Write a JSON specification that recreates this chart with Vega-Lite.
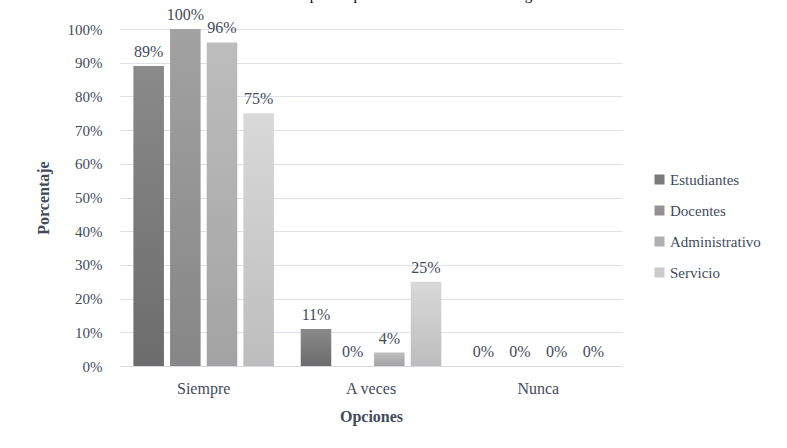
{
  "$schema": "https://vega.github.io/schema/vega-lite/v6.json",
  "autosize": {"type": "none"},
  "padding": {"left": 120, "top": 29, "right": 165, "bottom": 82},
  "width": 502,
  "height": 337,
  "background": "white",
  "title": {
    "text": "Gráfico 13: Preocupación por reducir el consumo del agua",
    "frame": "group",
    "anchor": "middle",
    "baseline": "alphabetic",
    "offset": -8,
    "font": "Liberation Serif, serif",
    "fontSize": 15,
    "fontWeight": "normal",
    "color": "#000000"
  },
  "config": {
    "view": {"stroke": null},
    "font": "Liberation Serif, serif"
  },
  "data": {
    "values": [
      {"opcion": "Siempre", "grupo": "Estudiantes", "valor": 0.89},
      {"opcion": "Siempre", "grupo": "Docentes", "valor": 1.0},
      {"opcion": "Siempre", "grupo": "Administrativo", "valor": 0.96},
      {"opcion": "Siempre", "grupo": "Servicio", "valor": 0.75},
      {"opcion": "A veces", "grupo": "Estudiantes", "valor": 0.11},
      {"opcion": "A veces", "grupo": "Docentes", "valor": 0.0},
      {"opcion": "A veces", "grupo": "Administrativo", "valor": 0.04},
      {"opcion": "A veces", "grupo": "Servicio", "valor": 0.25},
      {"opcion": "Nunca", "grupo": "Estudiantes", "valor": 0.0},
      {"opcion": "Nunca", "grupo": "Docentes", "valor": 0.0},
      {"opcion": "Nunca", "grupo": "Administrativo", "valor": 0.0},
      {"opcion": "Nunca", "grupo": "Servicio", "valor": 0.0}
    ]
  },
  "encoding": {
    "x": {
      "field": "opcion",
      "type": "nominal",
      "sort": ["Siempre", "A veces", "Nunca"],
      "scale": {"paddingInner": 0.16, "paddingOuter": 0.08},
      "axis": {
        "title": "Opciones",
        "labelAngle": 0,
        "labelFont": "Liberation Serif, serif",
        "labelFontSize": 16,
        "labelColor": "#3f4b5b",
        "labelPadding": 14,
        "ticks": false,
        "domainColor": "#d6dae3",
        "titleFont": "Liberation Serif, serif",
        "titleFontSize": 16,
        "titleFontWeight": "bold",
        "titleColor": "#3f4b5b",
        "titlePadding": 12
      }
    },
    "xOffset": {
      "field": "grupo",
      "type": "nominal",
      "sort": ["Estudiantes", "Docentes", "Administrativo", "Servicio"],
      "scale": {"paddingInner": 0.1667, "paddingOuter": 0}
    },
    "y": {
      "field": "valor",
      "type": "quantitative",
      "scale": {"domain": [0, 1]},
      "axis": {
        "title": "Porcentaje",
        "format": ".0%",
        "values": [0, 0.1, 0.2, 0.3, 0.4, 0.5, 0.6, 0.7, 0.8, 0.9, 1.0],
        "labelOverlap": false,
        "labelFont": "Liberation Serif, serif",
        "labelFontSize": 15,
        "labelColor": "#3f4b5b",
        "labelPadding": 18,
        "ticks": false,
        "domain": false,
        "gridColor": "#dde1ea",
        "titleFont": "Liberation Serif, serif",
        "titleFontSize": 16,
        "titleFontWeight": "bold",
        "titleColor": "#3f4b5b",
        "titlePadding": 16
      }
    }
  },
  "layer": [
    {
      "mark": {"type": "bar"},
      "encoding": {
        "color": {
          "condition": [
            {"test": "datum.grupo === 'Estudiantes'", "value": {"gradient": "linear", "x1": 0, "y1": 1, "x2": 0, "y2": 0, "stops": [{"offset": 0, "color": "#6c6c6c"}, {"offset": 1, "color": "#8a8a8a"}]}},
            {"test": "datum.grupo === 'Docentes'", "value": {"gradient": "linear", "x1": 0, "y1": 1, "x2": 0, "y2": 0, "stops": [{"offset": 0, "color": "#868686"}, {"offset": 1, "color": "#a2a2a2"}]}},
            {"test": "datum.grupo === 'Administrativo'", "value": {"gradient": "linear", "x1": 0, "y1": 1, "x2": 0, "y2": 0, "stops": [{"offset": 0, "color": "#a3a3a3"}, {"offset": 1, "color": "#bdbdbd"}]}},
            {"test": "datum.grupo === 'Servicio'", "value": {"gradient": "linear", "x1": 0, "y1": 1, "x2": 0, "y2": 0, "stops": [{"offset": 0, "color": "#bdbdbd"}, {"offset": 1, "color": "#d9d9d9"}]}}
          ],
          "field": "grupo",
          "type": "nominal",
          "sort": ["Estudiantes", "Docentes", "Administrativo", "Servicio"],
          "scale": {
            "domain": ["Estudiantes", "Docentes", "Administrativo", "Servicio"],
            "range": ["#7b7b7b", "#939393", "#b0b0b0", "#cbcbcb"]
          },
          "legend": {
            "title": null,
            "orient": "none",
            "legendX": 532,
            "legendY": 143,
            "symbolType": "square",
            "symbolSize": 100,
            "symbolStrokeWidth": 0,
            "labelFontSize": 15,
            "labelColor": "#3f4b5b",
            "labelFont": "Liberation Serif, serif",
            "rowPadding": 15,
            "labelOffset": 3
          }
        }
      }
    },
    {
      "mark": {
        "type": "text",
        "baseline": "bottom",
        "dy": -6,
        "fontSize": 16,
        "color": "#3f4b5b",
        "font": "Liberation Serif, serif"
      },
      "encoding": {
        "text": {"field": "valor", "type": "quantitative", "format": ".0%"}
      }
    }
  ]
}
